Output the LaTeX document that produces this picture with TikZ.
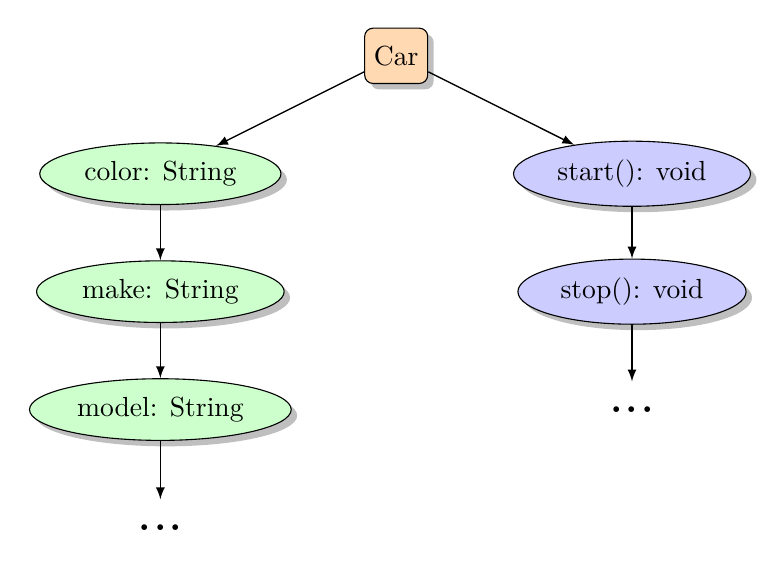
\documentclass[tikz,border=0pt]{standalone}
\usepackage{tikz}
\usetikzlibrary{shadows,arrows,shapes,positioning,calc}
\tikzset{
cls/.style={draw,fill=orange!30,rounded corners=3pt,minimum height=2em,drop shadow},
attr/.style={draw,fill=green!20,ellipse,drop shadow},
meth/.style={draw,fill=blue!20,ellipse,drop shadow},
more/.style={font=\Large\bfseries,minimum height=20pt},
line/.style={-latex,line width=0.5pt},
}
\newcommand{\moredots}{.\kern1.2pt.\kern1.2pt.}

\begin{document}
\begin{tikzpicture}
  \useasboundingbox (-5.04,-6.64) rectangle (4.87,0.71);
  \node[cls] (car) at (0,0) {Car};
  \draw foreach \i/\t in {1/color: String,2/make: String,3/model: String}
  { (-3,-1.5*\i) node[attr] (a\i) {\t} };
  \draw foreach \i/\t in {1/start(): void,2/stop(): void}
  { (3,-1.5*\i) node[meth] (m\i) {\t} };
  \node[more] (a4) at (-3,-6) {\moredots};
  \node[more] (m3) at (3,-4.5) {\moredots};
  \draw[line] (car) -- (a1);
  \draw[line] (car) -- (m1);
  \draw[line] (a1) -- (a2);
  \draw[line] (a2) -- (a3);
  \draw[line] (a3) -- (a4);
  \draw[line] (m1) -- (m2);
  \draw[line] (m2) -- (m3);
\end{tikzpicture}
\end{document}
